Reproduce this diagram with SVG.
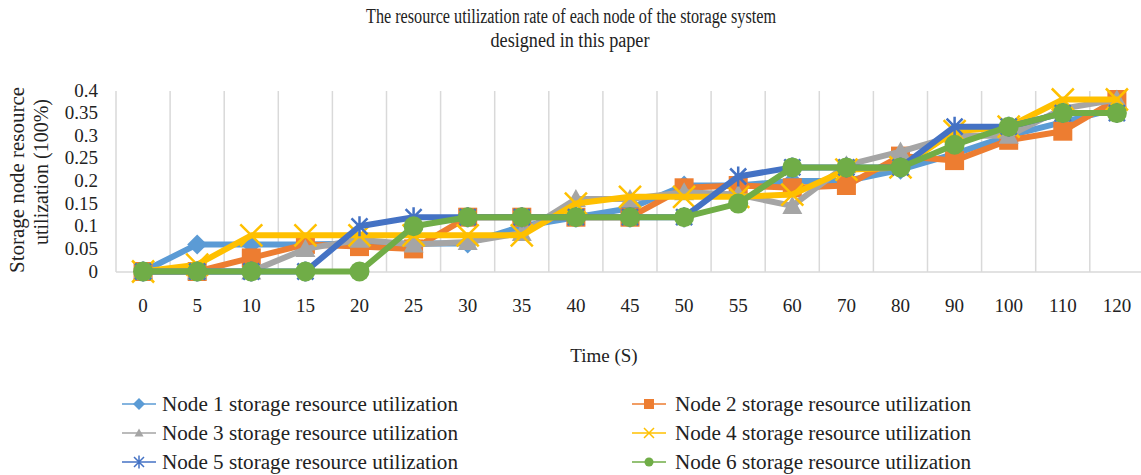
<svg xmlns="http://www.w3.org/2000/svg" width="1141" height="475" viewBox="0 0 1141 475">
<style>
text{font-family:"Liberation Serif","Times New Roman",serif;fill:#222222}
.tick{font-size:19px}
.yt{text-anchor:end}
.xt{text-anchor:middle}
.grid{stroke:#D9D9D9;stroke-width:1.5}
.ser{fill:none;stroke-width:6;stroke-linejoin:round;stroke-linecap:round}
.leg{fill:none;stroke-width:1.6}
.lt{font-size:20px}
</style>
<defs>
<marker id="m1" markerUnits="userSpaceOnUse" markerWidth="26" markerHeight="26" viewBox="-13 -13 26 26" refX="0" refY="0" overflow="visible"><path d="M0,-10 L10,0 L0,10 L-10,0Z" fill="#5B9BD5"/></marker>
<marker id="m2" markerUnits="userSpaceOnUse" markerWidth="26" markerHeight="26" viewBox="-13 -13 26 26" refX="0" refY="0" overflow="visible"><rect x="-9.5" y="-9.5" width="19" height="19" fill="#ED7D31"/></marker>
<marker id="m3" markerUnits="userSpaceOnUse" markerWidth="26" markerHeight="26" viewBox="-13 -13 26 26" refX="0" refY="0" overflow="visible"><path d="M0,-10 L10,8 L-10,8Z" fill="#A5A5A5"/></marker>
<marker id="m4" markerUnits="userSpaceOnUse" markerWidth="26" markerHeight="26" viewBox="-13 -13 26 26" refX="0" refY="0" overflow="visible"><path d="M-11,-11 L11,11 M11,-11 L-11,11" stroke="#FFC000" stroke-width="2.5" fill="none"/></marker>
<marker id="m5" markerUnits="userSpaceOnUse" markerWidth="26" markerHeight="26" viewBox="-13 -13 26 26" refX="0" refY="0" overflow="visible"><path d="M-8,-8 L8,8 M8,-8 L-8,8 M0,-10 L0,10" stroke="#4472C4" stroke-width="2.5" fill="none"/></marker>
<marker id="m6" markerUnits="userSpaceOnUse" markerWidth="26" markerHeight="26" viewBox="-13 -13 26 26" refX="0" refY="0" overflow="visible"><circle r="10" fill="#70AD47"/></marker>
<marker id="l1" markerUnits="userSpaceOnUse" markerWidth="14" markerHeight="14" viewBox="-7 -7 14 14" refX="0" refY="0" overflow="visible"><path d="M0,-6 L6,0 L0,6 L-6,0Z" fill="#5B9BD5"/></marker>
<marker id="l2" markerUnits="userSpaceOnUse" markerWidth="14" markerHeight="14" viewBox="-7 -7 14 14" refX="0" refY="0" overflow="visible"><rect x="-5" y="-5" width="10" height="10" fill="#ED7D31"/></marker>
<marker id="l3" markerUnits="userSpaceOnUse" markerWidth="14" markerHeight="14" viewBox="-7 -7 14 14" refX="0" refY="0" overflow="visible"><path d="M0,-4.5 L4.5,3.5 L-4.5,3.5Z" fill="#A5A5A5"/></marker>
<marker id="l4" markerUnits="userSpaceOnUse" markerWidth="14" markerHeight="14" viewBox="-7 -7 14 14" refX="0" refY="0" overflow="visible"><path d="M-5,-5 L5,5 M5,-5 L-5,5" stroke="#FFC000" stroke-width="1.5" fill="none"/></marker>
<marker id="l5" markerUnits="userSpaceOnUse" markerWidth="14" markerHeight="14" viewBox="-7 -7 14 14" refX="0" refY="0" overflow="visible"><path d="M-5,-5 L5,5 M5,-5 L-5,5 M0,-6.5 L0,6.5" stroke="#4472C4" stroke-width="1.5" fill="none"/></marker>
<marker id="l6" markerUnits="userSpaceOnUse" markerWidth="14" markerHeight="14" viewBox="-7 -7 14 14" refX="0" refY="0" overflow="visible"><circle r="4.5" fill="#70AD47"/></marker>
</defs>
<rect width="1141" height="475" fill="#FFFFFF"/>
<g id="title">
<text x="571" y="23" font-size="20" text-anchor="middle" textLength="410" lengthAdjust="spacingAndGlyphs">The resource utilization rate of each node of the storage system</text>
<text x="570" y="47" font-size="20" text-anchor="middle" textLength="159" lengthAdjust="spacingAndGlyphs">designed in this paper</text>
</g>
<g id="grid">
<path class="grid" d="M116,91V272 M170.1,91V272 M224.2,91V272 M278.3,91V272 M332.4,91V272 M386.5,91V272 M440.6,91V272 M494.7,91V272 M548.8,91V272 M602.9,91V272 M657,91V272 M711.1,91V272 M765.2,91V272 M819.3,91V272 M873.4,91V272 M927.5,91V272 M981.6,91V272 M1035.7,91V272 M1089.8,91V272"/>
<path class="grid" d="M116,272H1141"/>
</g>
<g id="y-axis">
<text class="tick yt" x="98" y="96.5">0.4</text>
<text class="tick yt" x="98" y="119">0.35</text>
<text class="tick yt" x="98" y="141.5">0.3</text>
<text class="tick yt" x="98" y="164">0.25</text>
<text class="tick yt" x="98" y="187">0.2</text>
<text class="tick yt" x="98" y="209.5">0.15</text>
<text class="tick yt" x="98" y="232">0.1</text>
<text class="tick yt" x="98" y="254.5">0.05</text>
<text class="tick yt" x="98" y="277.5">0</text>
<text font-size="21" text-anchor="middle" transform="translate(24,180) rotate(-90)" textLength="186" lengthAdjust="spacingAndGlyphs">Storage node resource</text>
<text font-size="21" text-anchor="middle" transform="translate(48,172) rotate(-90)" textLength="146" lengthAdjust="spacingAndGlyphs">utilization (100%)</text>
</g>
<g id="x-axis">
<text class="tick xt" x="143.1" y="312">0</text>
<text class="tick xt" x="197.2" y="312">5</text>
<text class="tick xt" x="251.3" y="312">10</text>
<text class="tick xt" x="305.4" y="312">15</text>
<text class="tick xt" x="359.5" y="312">20</text>
<text class="tick xt" x="413.6" y="312">25</text>
<text class="tick xt" x="467.7" y="312">30</text>
<text class="tick xt" x="521.8" y="312">35</text>
<text class="tick xt" x="575.9" y="312">40</text>
<text class="tick xt" x="630" y="312">45</text>
<text class="tick xt" x="684.1" y="312">50</text>
<text class="tick xt" x="738.2" y="312">55</text>
<text class="tick xt" x="792.3" y="312">60</text>
<text class="tick xt" x="846.4" y="312">70</text>
<text class="tick xt" x="900.5" y="312">80</text>
<text class="tick xt" x="954.6" y="312">90</text>
<text class="tick xt" x="1008.7" y="312">100</text>
<text class="tick xt" x="1062.8" y="312">110</text>
<text class="tick xt" x="1116.9" y="312">120</text>
<text class="tick xt" x="604" y="362">Time (S)</text>
</g>
<g id="connectors">
<polyline id="series1" class="ser" stroke="#5B9BD5" marker-start="url(#m1)" marker-mid="url(#m1)" marker-end="url(#m1)" points="143.1,271.5 197.2,244.4 251.3,244.4 305.4,244.4 359.5,243.4 413.6,243.4 467.7,243.4 521.8,226.3 575.9,217.2 630,208.2 684.1,185.5 738.2,185.5 792.3,181 846.4,181 900.5,169.7 954.6,153.9 1008.7,135.8 1062.8,122.2 1116.9,108.6"/>
<polyline id="series2" class="ser" stroke="#ED7D31" marker-start="url(#m2)" marker-mid="url(#m2)" marker-end="url(#m2)" points="143.1,271.5 197.2,271.5 251.3,257.9 305.4,244.4 359.5,246.6 413.6,248.9 467.7,217.2 521.8,217.2 575.9,217.2 630,217.2 684.1,187.8 738.2,185.5 792.3,187.8 846.4,185.5 900.5,156.1 954.6,160.6 1008.7,140.3 1062.8,131.2 1116.9,99.5"/>
<polyline id="series3" class="ser" stroke="#A5A5A5" marker-start="url(#m3)" marker-mid="url(#m3)" marker-end="url(#m3)" points="143.1,271.5 197.2,271.5 251.3,271.5 305.4,248.9 359.5,239.8 413.6,244.4 467.7,242.1 521.8,233 575.9,199.1 630,199.1 684.1,192.3 738.2,194.6 792.3,205.9 846.4,165.2 900.5,151.6 954.6,135.8 1008.7,135.8 1062.8,108.6 1116.9,99.5"/>
<polyline id="series4" class="ser" stroke="#FFC000" marker-start="url(#m4)" marker-mid="url(#m4)" marker-end="url(#m4)" points="143.1,271.5 197.2,264.7 251.3,235.3 305.4,235.3 359.5,235.3 413.6,235.3 467.7,235.3 521.8,235.3 575.9,203.6 630,196.8 684.1,196.8 738.2,196.8 792.3,194.6 846.4,169.7 900.5,167.4 954.6,131.2 1008.7,126.7 1062.8,99.5 1116.9,99.5"/>
<polyline id="series5" class="ser" stroke="#4472C4" marker-start="url(#m5)" marker-mid="url(#m5)" marker-end="url(#m5)" points="143.1,271.5 197.2,271.5 251.3,271.5 305.4,271.5 359.5,226.3 413.6,217.2 467.7,217.2 521.8,217.2 575.9,217.2 630,217.2 684.1,217.2 738.2,176.5 792.3,167.4 846.4,167.4 900.5,167.4 954.6,126.7 1008.7,126.7 1062.8,113.1 1116.9,113.1"/>
<polyline id="series6" class="ser" stroke="#70AD47" marker-start="url(#m6)" marker-mid="url(#m6)" marker-end="url(#m6)" points="143.1,271.5 197.2,271.5 251.3,271.5 305.4,271.5 359.5,271.5 413.6,226.3 467.7,217.2 521.8,217.2 575.9,217.2 630,217.2 684.1,217.2 738.2,203.6 792.3,167.4 846.4,167.4 900.5,167.4 954.6,144.8 1008.7,126.7 1062.8,113.1 1116.9,113.1"/>
</g>
<g id="legend">
<g id="legend1"><polyline class="leg" stroke="#5B9BD5" marker-mid="url(#l1)" points="122,404 139,404 156,404"/><text class="lt" x="162" y="410.5" textLength="296" lengthAdjust="spacingAndGlyphs">Node 1 storage resource utilization</text></g>
<g id="legend3"><polyline class="leg" stroke="#A5A5A5" marker-mid="url(#l3)" points="122,433 139,433 156,433"/><text class="lt" x="162" y="439.5" textLength="296" lengthAdjust="spacingAndGlyphs">Node 3 storage resource utilization</text></g>
<g id="legend5"><polyline class="leg" stroke="#4472C4" marker-mid="url(#l5)" points="122,462 139,462 156,462"/><text class="lt" x="162" y="468.5" textLength="296" lengthAdjust="spacingAndGlyphs">Node 5 storage resource utilization</text></g>
<g id="legend2"><polyline class="leg" stroke="#ED7D31" marker-mid="url(#l2)" points="632,404 649,404 666,404"/><text class="lt" x="675" y="410.5" textLength="296" lengthAdjust="spacingAndGlyphs">Node 2 storage resource utilization</text></g>
<g id="legend4"><polyline class="leg" stroke="#FFC000" marker-mid="url(#l4)" points="632,433 649,433 666,433"/><text class="lt" x="675" y="439.5" textLength="296" lengthAdjust="spacingAndGlyphs">Node 4 storage resource utilization</text></g>
<g id="legend6"><polyline class="leg" stroke="#70AD47" marker-mid="url(#l6)" points="632,462 649,462 666,462"/><text class="lt" x="675" y="468.5" textLength="296" lengthAdjust="spacingAndGlyphs">Node 6 storage resource utilization</text></g>
</g>
</svg>
